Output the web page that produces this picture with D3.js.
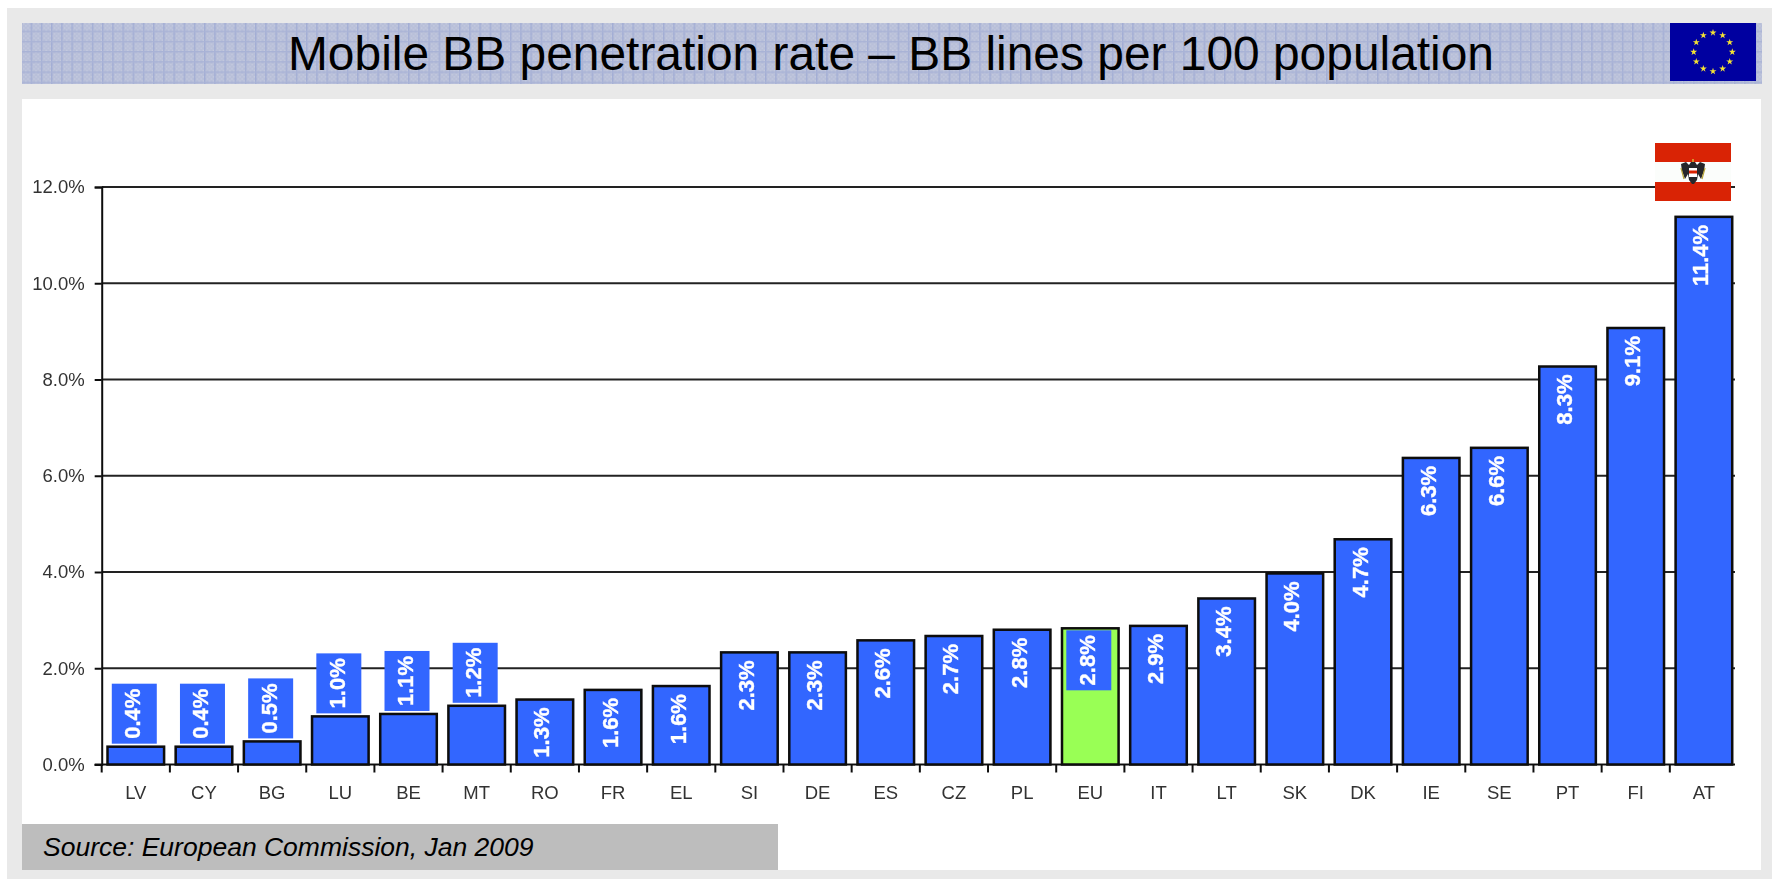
<!DOCTYPE html>
<html><head><meta charset="utf-8">
<script src="https://d3js.org/d3.v7.min.js"></script>
<style>html,body{margin:0;padding:0;background:#fff}svg{display:block}text{font-family:"Liberation Sans",Arial,sans-serif}</style>
</head><body><div id="c"></div>
<script>
const categories=["LV","CY","BG","LU","BE","MT","RO","FR","EL","SI","DE","ES","CZ","PL","EU","IT","LT","SK","DK","IE","SE","PT","FI","AT"];
const barValues=[0.37,0.37,0.48,1.0,1.05,1.22,1.35,1.55,1.63,2.33,2.33,2.58,2.67,2.8,2.83,2.88,3.45,3.97,4.68,6.37,6.58,8.27,9.07,11.38];
const valueLabels=["0.4%","0.4%","0.5%","1.0%","1.1%","1.2%","1.3%","1.6%","1.6%","2.3%","2.3%","2.6%","2.7%","2.8%","2.8%","2.9%","3.4%","4.0%","4.7%","6.3%","6.6%","8.3%","9.1%","11.4%"];
const labelsAboveBar=["LV","CY","BG","LU","BE","MT"];
const yTicks=[0,2,4,6,8,10,12];
const titleText="Mobile BB penetration rate – BB lines per 100 population";
const sourceText="Source: European Commission, Jan 2009";

const W=1772,H=879;
const svg=d3.select("#c").append("svg").attr("width",W).attr("height",H);
const defs=svg.append("defs");
defs.append("filter").attr("id","soft").append("feGaussianBlur").attr("stdDeviation",0.6);
const pat=defs.append("pattern").attr("id","hdr").attr("patternUnits","userSpaceOnUse").attr("width",10.2).attr("height",10.2);
pat.append("rect").attr("width",10.2).attr("height",10.2).attr("fill","#b8bfd9");
for(let i=0;i<5;i++)for(let j=0;j<5;j++)if((i+j)%2==0)pat.append("rect").attr("x",i*2+1).attr("y",j*2+1).attr("width",1).attr("height",1).attr("fill","#d2d6e4");
pat.append("rect").attr("x",0).attr("y",0).attr("width",1.5).attr("height",10.2).attr("fill","#a3aed5");
pat.append("rect").attr("x",0).attr("y",0).attr("width",10.2).attr("height",1.5).attr("fill","#a9b3d6");

// page frame
svg.append("rect").attr("x",7).attr("y",8).attr("width",W-7).attr("height",H-8).attr("fill","#e9e9e9");
svg.append("rect").attr("x",22).attr("y",23).attr("width",1740).attr("height",61).attr("fill","url(#hdr)");
svg.append("rect").attr("x",22).attr("y",99).attr("width",1739).attr("height",771).attr("fill","#fff");
svg.append("rect").attr("x",22).attr("y",824).attr("width",756).attr("height",46).attr("fill","#bdbdbd");

svg.append("text").attr("x",891).attr("y",70).attr("text-anchor","middle").attr("font-size",47.9).attr("fill","#000").text(titleText);
svg.append("text").attr("x",43).attr("y",856).attr("font-size",26.5).attr("font-style","italic").attr("fill","#000").text(sourceText);

// EU flag
const eu=svg.append("g");
eu.append("rect").attr("x",1670).attr("y",23).attr("width",86).attr("height",58).attr("fill","#0000a0");
const star=d3.symbol().type(d3.symbolStar).size(15);
d3.range(12).forEach(i=>{const a=i*Math.PI/6;
 eu.append("path").attr("d",star()).attr("fill","#f4e233").attr("transform",`translate(${1713+19.3*Math.sin(a)},${52-19.3*Math.cos(a)})`);});

// scales
const plotLeft=101.7,plotRight=1738,gridRight=1735;
const y=d3.scaleLinear().domain([0,12]).range([764.5,187]);
const x=d3.scaleBand().domain(categories).range([plotLeft,plotRight]).paddingInner(0.17).paddingOuter(0.085);

const chart=svg.append("g").attr("filter","url(#soft)");
// grid
chart.selectAll("line.g").data(yTicks.filter(d=>d>0)).join("line").attr("class","g")
 .attr("x1",plotLeft).attr("x2",gridRight).attr("y1",d=>y(d)).attr("y2",d=>y(d)).attr("stroke","#222").attr("stroke-width",2);

// axes
const yAxis=d3.axisLeft(y).tickValues(yTicks).tickFormat(d=>d.toFixed(1)+"%").tickSize(7).tickPadding(10);
const gy=chart.append("g").attr("transform",`translate(${plotLeft},0)`).call(yAxis);
gy.selectAll("text").attr("font-size",18.5).attr("fill","#333").style("font-family",'"Liberation Sans",Arial,sans-serif');
gy.selectAll("line,path").attr("stroke","#111").attr("stroke-width",2);

const step=x.step();
const gx=chart.append("g");
gx.append("line").attr("x1",plotLeft-7).attr("x2",gridRight).attr("y1",y(0)).attr("y2",y(0)).attr("stroke","#111").attr("stroke-width",2);
gx.selectAll("line.t").data(categories).join("line").attr("class","t")
 .attr("x1",d=>x(d)+x.bandwidth()/2-step/2).attr("x2",d=>x(d)+x.bandwidth()/2-step/2).attr("y1",y(0)).attr("y2",y(0)+8).attr("stroke","#111").attr("stroke-width",2);
gx.selectAll("text").data(categories).join("text").attr("x",d=>x(d)+x.bandwidth()/2).attr("y",799)
 .attr("text-anchor","middle").attr("font-size",18.5).attr("fill","#333").text(d=>d);

// bars
const rows=categories.map((c,i)=>({c,v:barValues[i],l:valueLabels[i]}));
chart.selectAll("rect.b").data(rows).join("rect").attr("class","b")
 .attr("x",d=>x(d.c)).attr("width",x.bandwidth()).attr("y",d=>y(d.v)).attr("height",d=>y(0)-y(d.v))
 .attr("fill",d=>d.c==="EU"?"#99ff55":"#3366ff").attr("stroke","#0a0a0a").attr("stroke-width",2.5);

// label boxes
const boxW=45,boxH=60;
const boxed=rows.filter(d=>labelsAboveBar.includes(d.c)||d.c==="EU");
const boxTop=d=>d.c==="EU"?y(d.v)+2:y(d.v)-3-boxH;
chart.selectAll("rect.l").data(boxed).join("rect").attr("class","l")
 .attr("x",d=>x(d.c)+x.bandwidth()/2-boxW/2-1.5).attr("width",boxW).attr("y",boxTop).attr("height",boxH).attr("fill","#3366ff");

// value labels
chart.selectAll("text.v").data(rows).join("text").attr("class","v")
 .attr("font-size",22).attr("font-weight","bold").attr("fill","#fff").attr("stroke","#fff").attr("stroke-width",0.4).attr("dominant-baseline","central")
 .attr("text-anchor",d=>boxed.includes(d)?"middle":"end")
 .attr("transform",d=>{const cx=x(d.c)+x.bandwidth()/2-3;
   const py=boxed.includes(d)?boxTop(d)+boxH/2:y(d.v)+8;
   return `translate(${cx},${py}) rotate(-90)`;})
 .text(d=>d.l);

// Austrian flag
const at=svg.append("g");
at.append("rect").attr("x",1655).attr("y",143).attr("width",76).attr("height",58).attr("fill","#fbfdfb");
at.append("rect").attr("x",1655).attr("y",143).attr("width",76).attr("height",19).attr("fill","#d92305");
at.append("rect").attr("x",1655).attr("y",182).attr("width",76).attr("height",19).attr("fill","#d92305");
const eagle=at.append("g").attr("transform","translate(1693,172)").attr("filter","url(#soft)");
eagle.append("path").attr("d","M-2,-10 L-4,-7 L-7,-10 L-12,-8 L-11,-1 L-8,7 L-5,2 L-4,8 L-1,12 L1,12 L4,8 L5,2 L8,7 L11,-1 L12,-8 L7,-10 L4,-7 L2,-10 Z").attr("fill","#26262a");
eagle.append("path").attr("d","M-12,-4 L-9,7 M12,-4 L9,7").attr("stroke","#b8a53a").attr("stroke-width",1.2).attr("fill","none");
eagle.append("rect").attr("x",-4).attr("y",-4).attr("width",8).attr("height",9).attr("fill","#fff");
eagle.append("rect").attr("x",-4).attr("y",-1.5).attr("width",8).attr("height",3).attr("fill","#d92305");
eagle.append("rect").attr("x",-1).attr("y",-13).attr("width",2).attr("height",3).attr("fill","#d9902a");
</script></body></html>
